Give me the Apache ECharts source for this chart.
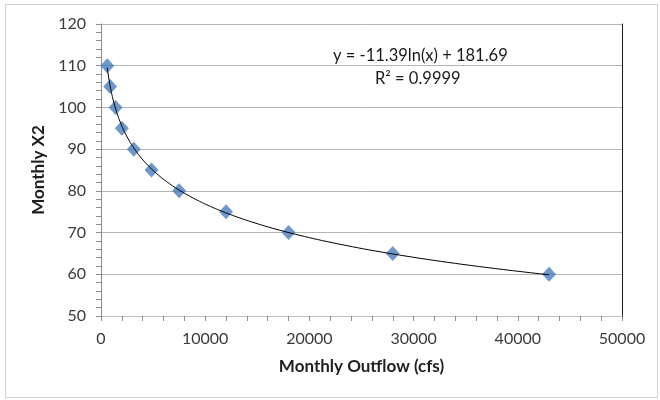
<!DOCTYPE html>
<html>
<head>
<meta charset="utf-8">
<script src="https://cdn.jsdelivr.net/npm/echarts@6/dist/echarts.min.js"></script>
<style>
html,body{margin:0;padding:0;background:#fff;}
#wrap{position:absolute;left:5px;top:4px;width:653px;height:394px;border:1px solid #d0d0d0;box-sizing:border-box;}
#c{position:absolute;left:0;top:0;width:660px;height:400px;}
</style>
</head>
<body>
<div id="wrap"></div>
<div id="c"></div>
<script>
// Data
const outflow = [600, 880, 1400, 2000, 3150, 4850, 7500, 12000, 18000, 28000, 43000];
const x2 = [110, 105, 100, 95, 90, 85, 80, 75, 70, 65, 60];
const xTicks = [0, 10000, 20000, 30000, 40000, 50000];
const yTicks = [50, 60, 70, 80, 90, 100, 110, 120];
const equationText = 'y = -11.39ln(x) + 181.69';
const r2Text = 'R\u00B2 = 0.9999';

// Logarithmic trendline fitted to the data (least squares on ln x)
function logFit(xs, ys) {
  const n = xs.length;
  let sx = 0, sy = 0, sxx = 0, sxy = 0;
  for (let i = 0; i < n; i++) {
    const lx = Math.log(xs[i]);
    sx += lx; sy += ys[i]; sxx += lx * lx; sxy += lx * ys[i];
  }
  const a = (n * sxy - sx * sy) / (n * sxx - sx * sx);
  const b = (sy - a * sx) / n;
  return { a, b };
}
const fit = logFit(outflow, x2);
const trend = [];
const x0 = outflow[0], x1 = outflow[outflow.length - 1];
const steps = 200;
for (let i = 0; i <= steps; i++) {
  const xv = x0 * Math.pow(x1 / x0, i / steps);
  trend.push([xv, fit.a * Math.log(xv) + fit.b]);
}

const chart = echarts.init(document.getElementById('c'));
const font = 'Lato';
chart.setOption({
  animation: false,
  backgroundColor: 'transparent',
  textStyle: { fontFamily: font },
  grid: { left: 101, right: 38, top: 24, bottom: 84, containLabel: false },
  xAxis: {
    type: 'value', min: xTicks[0], max: xTicks[xTicks.length - 1], interval: 10000,
    name: 'Monthly Outflow (cfs)', nameLocation: 'middle', nameGap: 42,
    nameTextStyle: { fontFamily: font, fontWeight: 'bold', fontSize: 17, color: '#1f1f1f' },
    axisLine: { show: true, onZero: false, lineStyle: { color: '#bfbfbf', width: 1 } },
    axisTick: { show: true, inside: false, length: 5, lineStyle: { color: '#8c8c8c' } },
    minorTick: { show: true, splitNumber: 5, length: 5, lineStyle: { color: '#8c8c8c' } },
    axisLabel: { fontSize: 16, color: '#3a3a3a', margin: 15, fontFamily: font,
      formatter: v => String(v) },
    splitLine: { show: false }
  },
  yAxis: [{
    type: 'value', min: yTicks[0], max: yTicks[yTicks.length - 1], interval: 10,
    name: 'Monthly X2', nameLocation: 'middle', nameGap: 47, nameRotate: 90,
    nameTextStyle: { fontFamily: font, fontWeight: 'bold', fontSize: 17, color: '#1f1f1f' },
    axisLine: { show: true, lineStyle: { color: '#8c8c8c', width: 1 } },
    axisTick: { show: true, inside: false, length: 5, lineStyle: { color: '#8c8c8c' } },
    minorTick: { show: true, splitNumber: 5, length: 5, lineStyle: { color: '#8c8c8c' } },
    axisLabel: { fontSize: 16, color: '#3a3a3a', margin: 15, fontFamily: font },
    splitLine: { show: true, lineStyle: { color: '#b3b3b3', width: 1 } }
  }, {
    type: 'value', min: yTicks[0], max: yTicks[yTicks.length - 1], interval: 10,
    position: 'right',
    axisLine: { show: true, lineStyle: { color: '#1a1a1a', width: 1 } },
    axisTick: { show: false }, axisLabel: { show: false }, splitLine: { show: false }
  }],
  series: [{
    type: 'line', data: trend, showSymbol: false, symbol: 'none', smooth: false,
    lineStyle: { color: '#000', width: 1 }, z: 3, silent: true
  }, {
    type: 'scatter', data: outflow.map((v, i) => [v, x2[i]]),
    symbol: 'diamond', symbolSize: [14, 15],
    itemStyle: { color: '#4a7ebb' }, z: 2
  }],
  graphic: [{
    type: 'text', left: 333, top: 47,
    style: { text: equationText, fontSize: 16.5, fill: '#1a1a1a', fontFamily: font }
  }, {
    type: 'text', left: 375, top: 70,
    style: { text: r2Text, fontSize: 16.5, fill: '#1a1a1a', fontFamily: font }
  }]
});
</script>
</body>
</html>
